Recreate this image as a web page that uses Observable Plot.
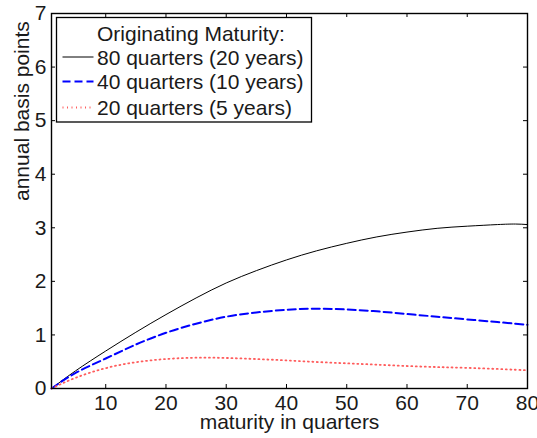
<!DOCTYPE html>
<html>
<head>
<meta charset="utf-8">
<script src="https://cdn.jsdelivr.net/npm/d3@7"></script>
<script src="https://cdn.jsdelivr.net/npm/@observablehq/plot@0.6"></script>
<style>
  html, body { margin: 0; padding: 0; background: #fff; }
  svg { display: block; }
</style>
</head>
<body>
<div id="chart"></div>
<script>
const quarters = [1, 5, 10, 15, 20, 25, 30, 35, 40, 45, 50, 55, 60, 65, 70, 75, 78, 80];
const q80 = [0, 0.33, 0.70, 1.05, 1.38, 1.69, 1.97, 2.20, 2.40, 2.57, 2.71, 2.83, 2.92, 2.99, 3.03, 3.06, 3.07, 3.06];
const q40 = [0, 0.29, 0.56, 0.82, 1.04, 1.21, 1.34, 1.42, 1.47, 1.49, 1.475, 1.44, 1.39, 1.34, 1.29, 1.24, 1.21, 1.19];
const q20 = [0, 0.20, 0.38, 0.49, 0.55, 0.575, 0.57, 0.55, 0.525, 0.495, 0.47, 0.445, 0.42, 0.40, 0.385, 0.365, 0.35, 0.34];
const seriesNames = ["80 quarters (20 years)", "40 quarters (10 years)", "20 quarters (5 years)"];
const legendTitle = "Originating Maturity:";
const xTicks = [10, 20, 30, 40, 50, 60, 70, 80];
const yTicks = [0, 1, 2, 3, 4, 5, 6, 7];
const xLabel = "maturity in quarters";
const yLabel = "annual basis points";

const styles = [
  {stroke: "#000000", strokeWidth: 1, strokeDasharray: null},
  {stroke: "#0000ff", strokeWidth: 2, strokeDasharray: "8,4"},
  {stroke: "#ff5c5c", strokeWidth: 1.8, strokeDasharray: "1,3.5"}
];

const valuesList = [q80, q40, q20];
const rows = [];
valuesList.forEach((vals, s) => {
  quarters.forEach((q, i) => rows.push({series: seriesNames[s], q, v: vals[i]}));
});

const font = "'Liberation Sans', Arial, Helvetica, sans-serif";
const W = 537, H = 438, mL = 51, mR = 10, mT = 13, mB = 50;
const tickLen = 4;
const frameW = W - mL - mR, frameH = H - mT - mB;

const lineMarks = valuesList.map((vals, s) =>
  Plot.line(rows.filter(d => d.series === seriesNames[s]), {
    x: "q", y: "v", curve: "natural",
    stroke: styles[s].stroke, strokeWidth: styles[s].strokeWidth,
    strokeDasharray: styles[s].strokeDasharray
  })
);

const plot = Plot.plot({
  width: W,
  height: H,
  marginLeft: mL,
  marginRight: mR,
  marginTop: mT,
  marginBottom: mB,
  style: {fontFamily: font, fontSize: "21px", color: "#1a1a1a", background: "#fff"},
  x: {domain: [1, 80]},
  y: {domain: [0, 7]},
  marks: [
    ...lineMarks,
    Plot.axisX(xTicks, {anchor: "bottom", tickSize: 0, tickPadding: 7, label: null, fontSize: 21, tickFormat: d3.format("d")}),
    Plot.axisY(yTicks, {anchor: "left", tickSize: 0, tickPadding: 5, label: null, fontSize: 21, tickFormat: d3.format("d")}),
    // inward ticks on all four sides
    Plot.tickX(xTicks, {x: d => d, insetTop: frameH - tickLen, stroke: "#000", strokeWidth: 1}),
    Plot.tickX(xTicks, {x: d => d, insetBottom: frameH - tickLen, stroke: "#000", strokeWidth: 1}),
    Plot.tickY(yTicks, {y: d => d, insetRight: frameW - tickLen, stroke: "#000", strokeWidth: 1}),
    Plot.tickY(yTicks, {y: d => d, insetLeft: frameW - tickLen, stroke: "#000", strokeWidth: 1}),
    Plot.frame({stroke: "#000", strokeWidth: 1.4}),
    Plot.text([xLabel], {frameAnchor: "bottom", dy: 40, lineAnchor: "bottom", fontSize: 21, fill: "#1a1a1a"}),
    Plot.text([yLabel], {frameAnchor: "left", dx: -29.5, rotate: -90, lineAnchor: "middle", fontSize: 21, fill: "#1a1a1a"})
  ]
});

document.getElementById("chart").appendChild(plot);

// Legend inside the axes (top-left)
const svg = d3.select(plot);
const lg = svg.append("g").attr("font-family", font).attr("font-size", 21)
  .attr("fill", "#1a1a1a").attr("text-anchor", "start");
lg.append("rect").attr("x", 56.5).attr("y", 17.5).attr("width", 255).attr("height", 104.5)
  .attr("fill", "#fff").attr("stroke", "#000").attr("stroke-width", 1.3);
lg.append("text").attr("x", 97).attr("y", 40.5).text(legendTitle);
const baselines = [64.5, 89, 115];
seriesNames.forEach((name, s) => {
  const yb = baselines[s];
  lg.append("line").attr("x1", 62.5).attr("x2", 93.5).attr("y1", yb - 7.5).attr("y2", yb - 7.5)
    .attr("stroke", styles[s].stroke).attr("stroke-width", styles[s].strokeWidth)
    .attr("stroke-dasharray", styles[s].strokeDasharray);
  lg.append("text").attr("x", 97).attr("y", yb).text(name);
});
</script>
</body>
</html>
